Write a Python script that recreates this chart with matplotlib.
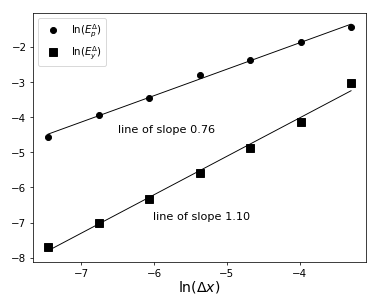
import numpy as np
import matplotlib
matplotlib.use("Agg")
import matplotlib.pyplot as plt

# ln of the mesh size, one value per refinement
ln_dx = [-7.455, -6.762, -6.068, -5.375, -4.682, -3.989, -3.296]

# errors
ln_Ep = [-4.56, -3.94, -3.44, -2.78, -2.35, -1.86, -1.43]
ln_Ey = [-7.71, -7.02, -6.32, -5.58, -4.86, -4.14, -3.02]

dpi = 67.14
fig = plt.figure(figsize=(376.2 / dpi, 295.2 / dpi), dpi=dpi)
ax = fig.add_axes([33 / 376, 33 / 295, 333 / 376, 249 / 295])

x = np.array(ln_dx)
for y, mk, ms, lab in [(ln_Ep, 'o', 6.5, r'$\ln(E_p^\Delta)$'),
                       (ln_Ey, 's', 9, r'$\ln(E_y^\Delta)$')]:
    ax.plot(x, y, mk, color='black', markersize=ms, label=lab)
    k, b = np.polyfit(x, y, 1)
    ax.plot(x, k * x + b, '-', color='black', linewidth=1)

ax.text(-6.50, -4.35, 'line of slope 0.76', fontsize=12, va='center')
ax.text(-6.01, -6.85, 'line of slope 1.10', fontsize=12, va='center')

ax.set_xlabel(r'$\ln(\Delta x)$', fontsize=15, labelpad=0)
ax.set_xticks([-7, -6, -5, -4])
ax.set_yticks([-8, -7, -6, -5, -4, -3, -2])
ax.tick_params(labelsize=11)
ax.legend(loc='upper left', fontsize=11)

fig.savefig('out.png', dpi=dpi)
